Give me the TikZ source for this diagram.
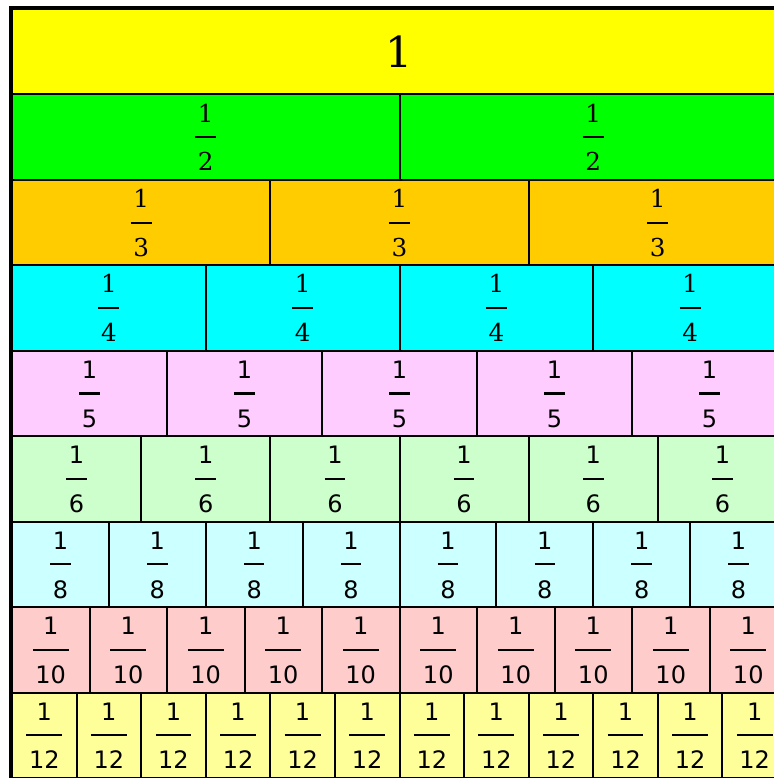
\documentclass[tikz,border=0pt]{standalone}
\usepackage{fontspec}
\setmainfont{DejaVu Serif}
\newfontfamily\sansdigits{DejaVu Sans}
\newfontfamily\serifdigits{DejaVu Serif}
\usetikzlibrary{positioning}

\definecolor{wallyellow}{HTML}{FFFF00}
\definecolor{wallgreen}{HTML}{00FF00}
\definecolor{wallorange}{HTML}{FFCC00}
\definecolor{wallcyan}{HTML}{00FFFF}
\definecolor{wallpink}{HTML}{FFCCFF}
\definecolor{wallmint}{HTML}{CCFFCC}
\definecolor{wallice}{HTML}{CCFFFF}
\definecolor{wallrose}{HTML}{FFCCCC}
\definecolor{wallcream}{HTML}{FFFF99}

% 1 over #1, bar made by \hline
\newcommand{\unitfrac}[1]{%
  \renewcommand{\arraystretch}{1.75}%
  \setlength{\arrayrulewidth}{1.6pt}%
  \begin{tabular}{@{\hspace{2pt}}c@{\hspace{2pt}}}1\\ \hline #1\end{tabular}}

\begin{document}
\begin{tikzpicture}[x=0.75pt, y=-0.75pt,
    piece/.style={draw=black, line width=1.5pt, inner sep=0pt,
                  minimum height=64.08pt},
    fracnum/.style={inner sep=0pt, text=black}]
  \useasboundingbox (0,0) rectangle (774,778);
  % whole
  \node[piece, fill=wallyellow, minimum width=581.25pt] (whole)
    at ({12+775/2}, {9+85.44/2}) {};
  \node[fracnum, font=\serifdigits\fontsize{32}{36}\selectfont] (one)
    at (whole.center) {1};
  % rows of unit fractions
  \foreach \n/\col/\fnt/\sz [count=\r] in {
      2/wallgreen/\serifdigits/18.5, 3/wallorange/\serifdigits/18.5,
      4/wallcyan/\serifdigits/18.5, 5/wallpink/\sansdigits/18,
      6/wallmint/\sansdigits/18, 8/wallice/\sansdigits/18,
      10/wallrose/\sansdigits/18, 12/wallcream/\sansdigits/18}{
    \foreach \i in {1,...,\n}{
      \node[piece, fill=\col, minimum width=775*0.75pt/\n] (c\n-\i)
        at ({12+(\i-0.5)*775/\n}, {9+(\r+0.5)*85.44}) {};
      \node[fracnum, font=\fnt\fontsize{\sz}{20}\selectfont] (f\n-\i)
        at (c\n-\i.center) {\unitfrac{\n}};
    }
  }
  % outer frame
  \draw[line width=3pt] (11,790) |- (790,8);
\end{tikzpicture}
\end{document}
